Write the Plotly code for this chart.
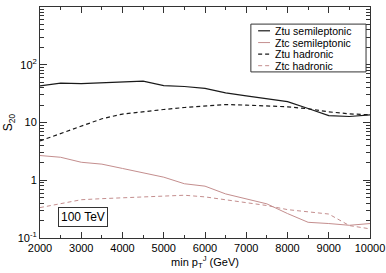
import plotly.graph_objects as go

pt_min = [2000, 2500, 3000, 3500, 4000, 4500, 5000, 5500, 6000,
          6500, 7000, 7500, 8000, 8500, 9000, 9500, 10000]
ztu_semi = [43, 48, 47, 49, 50, 52, 43.5, 42, 39, 32.5, 29, 26, 23, 17.5, 13.2, 12.7, 13.6]
ztc_semi = [2.68, 2.5, 2.05, 1.9, 1.6, 1.34, 1.13, 0.87, 0.79, 0.58, 0.48, 0.39, 0.265, 0.187, 0.178, 0.166, 0.178]
ztu_had = [4.8, 6.4, 8.8, 11.6, 14, 15.5, 16.8, 18.2, 19.5, 20.5, 20, 19.2, 18.7, 17.3, 15.3, 14.1, 13.6]
ztc_had = [0.336, 0.39, 0.46, 0.48, 0.5, 0.51, 0.53, 0.55, 0.515, 0.46, 0.41, 0.365, 0.31, 0.28, 0.26, 0.164, 0.144]

names = ["Ztu semileptonic", "Ztc semileptonic", "Ztu hadronic", "Ztc hadronic"]
series = [ztu_semi, ztc_semi, ztu_had, ztc_had]
xtick_vals = list(range(2000, 10001, 1000))
xtick_text = [str(v) for v in xtick_vals]
ytick_vals = [0.1, 1, 10, 100, 1000]
ytick_text = ["10<sup>-1</sup>", "1", "10", "10<sup>2</sup>", "10<sup>3</sup>"]

BLACK = "#1a1a1a"
PINK = "#c48e8e"
colors = [BLACK, PINK, BLACK, PINK]
dashes = ["solid", "solid", "4px,3px", "4px,3px"]
widths = [1.2, 1.0, 1.2, 1.0]

yminor = [m * 10 ** e for e in range(-1, 3) for m in range(2, 10)]
xminor = [v + 500 for v in xtick_vals[:-1]]

FONT = "Liberation Sans, Arial, sans-serif"
fig = go.Figure()
for n, s, c, d, w in zip(names, series, colors, dashes, widths):
    fig.add_trace(go.Scatter(x=pt_min, y=s, mode="lines", name=n,
                             line=dict(color=c, dash=d, width=w),
                             showlegend=False, hoverinfo="skip"))

frame = "#333333"
fig.update_layout(
    width=386, height=273,
    margin=dict(l=40, r=16, t=7, b=35),
    paper_bgcolor="white", plot_bgcolor="white",
    font=dict(family=FONT, size=11, color="black"),
    xaxis=dict(range=[2000, 10000], tickvals=xtick_vals, ticktext=xtick_text,
               automargin=False,
               ticks="inside", ticklen=6, tickcolor=frame,
               showline=True, linecolor=frame, linewidth=1, mirror="allticks",
               showgrid=False, zeroline=False,
               minor=dict(tickvals=xminor, ticks="inside",
                          ticklen=3, tickcolor=frame, showgrid=False),
               title=dict(text="min p<sub>T</sub><sup>J</sup> (GeV)", standoff=0,
                          font=dict(size=11))),
    yaxis=dict(type="log", range=[-1, 3], tickvals=ytick_vals, ticktext=ytick_text,
               automargin=False,
               ticks="inside", ticklen=7, tickcolor=frame,
               showline=True, linecolor=frame, linewidth=1, mirror="allticks",
               showgrid=False, zeroline=False,
               minor=dict(tickvals=yminor, ticks="inside", ticklen=4,
                          tickcolor=frame, showgrid=False),
               title=dict(text="S<sub>20</sub>", standoff=2, font=dict(size=12))),
)

# manual legend box
fig.add_shape(type="rect", xref="paper", yref="paper", x0=0.639, x1=0.988, y0=0.719, y1=0.926,
              line=dict(color=frame, width=1), fillcolor="white")
ys = [0.897, 0.846, 0.796, 0.746]
for n, c, d, w, yy in zip(names, colors, dashes, widths, ys):
    fig.add_shape(type="line", xref="paper", yref="paper", x0=0.661, x1=0.697, y0=yy, y1=yy,
                  line=dict(color=c, dash=d, width=w))
    fig.add_annotation(xref="paper", yref="paper", x=0.706, y=yy, text=n, showarrow=False,
                       xanchor="left", yanchor="middle", font=dict(size=10.5, family=FONT))

fig.add_annotation(xref="paper", yref="paper", x=0.130, y=0.089, text="100 TeV",
                   showarrow=False, xanchor="center", yanchor="middle",
                   bordercolor=frame, borderwidth=1, borderpad=2,
                   font=dict(size=12, family=FONT))

fig.write_html("out.html", config={"displayModeBar": False, "staticPlot": True},
               post_script="document.body.style.margin='0';document.body.style.overflow='hidden';")
